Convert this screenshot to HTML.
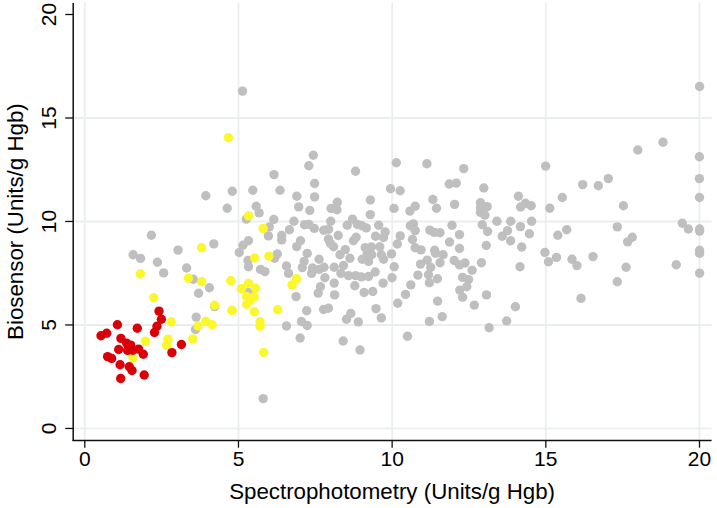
<!DOCTYPE html><html><head><meta charset="utf-8"><style>html,body{margin:0;padding:0;background:#fff;}svg{display:block}text{font-family:"Liberation Sans",sans-serif;fill:#000}</style></head><body>
<svg width="717" height="508" viewBox="0 0 717 508">
<rect width="717" height="508" fill="#fff"/>
<g stroke="#ebeeee" stroke-width="1.8"><line x1="73.8" y1="428.4" x2="711.6" y2="428.4"/><line x1="73.8" y1="325.0" x2="711.6" y2="325.0"/><line x1="73.8" y1="221.5" x2="711.6" y2="221.5"/><line x1="73.8" y1="118.0" x2="711.6" y2="118.0"/><line x1="84.8" y1="2.5" x2="84.8" y2="439.4"/><line x1="238.5" y1="2.5" x2="238.5" y2="439.4"/><line x1="392.2" y1="2.5" x2="392.2" y2="439.4"/><line x1="545.8" y1="2.5" x2="545.8" y2="439.4"/><line x1="699.5" y1="2.5" x2="699.5" y2="439.4"/></g>
<g fill="#bfbfbf"><circle cx="242.5" cy="91.1" r="4.7"/><circle cx="699.6" cy="86.5" r="4.7"/><circle cx="205.8" cy="195.8" r="4.7"/><circle cx="232.3" cy="191.3" r="4.7"/><circle cx="313.3" cy="155.2" r="4.7"/><circle cx="308.8" cy="165.7" r="4.7"/><circle cx="274.0" cy="174.6" r="4.7"/><circle cx="355.5" cy="171.3" r="4.7"/><circle cx="396.3" cy="162.8" r="4.7"/><circle cx="252.8" cy="190.2" r="4.7"/><circle cx="280.0" cy="190.2" r="4.7"/><circle cx="314.6" cy="183.5" r="4.7"/><circle cx="296.8" cy="196.3" r="4.7"/><circle cx="314.6" cy="196.9" r="4.7"/><circle cx="370.4" cy="200.0" r="4.7"/><circle cx="390.5" cy="188.7" r="4.7"/><circle cx="400.1" cy="190.7" r="4.7"/><circle cx="426.9" cy="163.7" r="4.7"/><circle cx="463.7" cy="168.6" r="4.7"/><circle cx="449.2" cy="184.0" r="4.7"/><circle cx="456.3" cy="183.1" r="4.7"/><circle cx="483.8" cy="188.0" r="4.7"/><circle cx="432.9" cy="199.5" r="4.7"/><circle cx="518.4" cy="196.3" r="4.7"/><circle cx="545.6" cy="166.1" r="4.7"/><circle cx="562.3" cy="197.5" r="4.7"/><circle cx="663.0" cy="142.2" r="4.7"/><circle cx="637.8" cy="150.0" r="4.7"/><circle cx="699.4" cy="156.7" r="4.7"/><circle cx="699.4" cy="178.6" r="4.7"/><circle cx="699.5" cy="197.5" r="4.7"/><circle cx="608.3" cy="178.6" r="4.7"/><circle cx="598.3" cy="185.8" r="4.7"/><circle cx="582.7" cy="184.6" r="4.7"/><circle cx="623.4" cy="205.8" r="4.7"/><circle cx="227.2" cy="208.2" r="4.7"/><circle cx="256.2" cy="206.2" r="4.7"/><circle cx="259.1" cy="212.9" r="4.7"/><circle cx="246.3" cy="219.1" r="4.7"/><circle cx="273.8" cy="219.5" r="4.7"/><circle cx="269.3" cy="227.0" r="4.7"/><circle cx="268.4" cy="235.9" r="4.7"/><circle cx="281.7" cy="235.5" r="4.7"/><circle cx="281.7" cy="239.9" r="4.7"/><circle cx="248.5" cy="240.8" r="4.7"/><circle cx="298.7" cy="206.9" r="4.7"/><circle cx="309.8" cy="210.5" r="4.7"/><circle cx="331.1" cy="208.4" r="4.7"/><circle cx="336.9" cy="209.8" r="4.7"/><circle cx="337.3" cy="202.2" r="4.7"/><circle cx="293.9" cy="221.3" r="4.7"/><circle cx="289.4" cy="229.7" r="4.7"/><circle cx="304.5" cy="224.8" r="4.7"/><circle cx="308.9" cy="224.4" r="4.7"/><circle cx="314.3" cy="228.4" r="4.7"/><circle cx="330.7" cy="221.3" r="4.7"/><circle cx="323.8" cy="230.2" r="4.7"/><circle cx="328.6" cy="229.2" r="4.7"/><circle cx="338.2" cy="235.5" r="4.7"/><circle cx="328.4" cy="239.0" r="4.7"/><circle cx="300.5" cy="240.8" r="4.7"/><circle cx="394.0" cy="208.4" r="4.7"/><circle cx="370.3" cy="214.6" r="4.7"/><circle cx="352.5" cy="219.1" r="4.7"/><circle cx="347.2" cy="225.3" r="4.7"/><circle cx="357.4" cy="224.4" r="4.7"/><circle cx="366.3" cy="227.9" r="4.7"/><circle cx="378.7" cy="225.3" r="4.7"/><circle cx="385.2" cy="232.0" r="4.7"/><circle cx="375.6" cy="236.3" r="4.7"/><circle cx="383.5" cy="237.5" r="4.7"/><circle cx="356.1" cy="237.2" r="4.7"/><circle cx="353.4" cy="240.8" r="4.7"/><circle cx="400.2" cy="235.9" r="4.7"/><circle cx="415.2" cy="206.2" r="4.7"/><circle cx="409.9" cy="211.1" r="4.7"/><circle cx="436.5" cy="208.2" r="4.7"/><circle cx="454.6" cy="204.4" r="4.7"/><circle cx="413.4" cy="223.9" r="4.7"/><circle cx="410.3" cy="225.7" r="4.7"/><circle cx="415.2" cy="230.6" r="4.7"/><circle cx="412.5" cy="239.5" r="4.7"/><circle cx="429.8" cy="230.1" r="4.7"/><circle cx="434.3" cy="232.4" r="4.7"/><circle cx="440.0" cy="232.8" r="4.7"/><circle cx="452.0" cy="225.3" r="4.7"/><circle cx="459.5" cy="234.6" r="4.7"/><circle cx="449.5" cy="242.0" r="4.7"/><circle cx="480.5" cy="202.7" r="4.7"/><circle cx="487.2" cy="206.6" r="4.7"/><circle cx="480.5" cy="212.4" r="4.7"/><circle cx="484.9" cy="215.1" r="4.7"/><circle cx="496.9" cy="221.3" r="4.7"/><circle cx="510.7" cy="221.3" r="4.7"/><circle cx="482.3" cy="224.8" r="4.7"/><circle cx="487.6" cy="231.5" r="4.7"/><circle cx="507.6" cy="230.6" r="4.7"/><circle cx="502.2" cy="236.3" r="4.7"/><circle cx="510.7" cy="240.8" r="4.7"/><circle cx="520.4" cy="226.6" r="4.7"/><circle cx="520.6" cy="207.0" r="4.7"/><circle cx="531.2" cy="205.8" r="4.7"/><circle cx="525.5" cy="203.3" r="4.7"/><circle cx="549.8" cy="208.2" r="4.7"/><circle cx="531.6" cy="221.3" r="4.7"/><circle cx="529.4" cy="233.7" r="4.7"/><circle cx="566.7" cy="229.7" r="4.7"/><circle cx="557.8" cy="235.3" r="4.7"/><circle cx="239.2" cy="252.5" r="4.7"/><circle cx="243.0" cy="245.3" r="4.7"/><circle cx="248.0" cy="260.5" r="4.7"/><circle cx="248.5" cy="266.7" r="4.7"/><circle cx="277.3" cy="253.9" r="4.7"/><circle cx="274.6" cy="258.3" r="4.7"/><circle cx="260.5" cy="269.4" r="4.7"/><circle cx="264.9" cy="271.6" r="4.7"/><circle cx="248.5" cy="292.7" r="4.7"/><circle cx="296.7" cy="246.6" r="4.7"/><circle cx="307.2" cy="253.4" r="4.7"/><circle cx="304.1" cy="261.4" r="4.7"/><circle cx="302.3" cy="267.6" r="4.7"/><circle cx="319.1" cy="259.2" r="4.7"/><circle cx="312.5" cy="268.0" r="4.7"/><circle cx="311.6" cy="273.4" r="4.7"/><circle cx="324.0" cy="267.2" r="4.7"/><circle cx="319.1" cy="269.4" r="4.7"/><circle cx="324.9" cy="277.8" r="4.7"/><circle cx="334.2" cy="283.1" r="4.7"/><circle cx="320.5" cy="286.7" r="4.7"/><circle cx="334.2" cy="267.2" r="4.7"/><circle cx="340.0" cy="254.8" r="4.7"/><circle cx="345.3" cy="249.6" r="4.7"/><circle cx="333.6" cy="246.8" r="4.7"/><circle cx="340.9" cy="273.4" r="4.7"/><circle cx="286.5" cy="266.0" r="4.7"/><circle cx="288.5" cy="273.4" r="4.7"/><circle cx="349.9" cy="258.3" r="4.7"/><circle cx="343.5" cy="265.5" r="4.7"/><circle cx="365.2" cy="247.6" r="4.7"/><circle cx="371.4" cy="247.0" r="4.7"/><circle cx="362.3" cy="259.2" r="4.7"/><circle cx="368.5" cy="261.4" r="4.7"/><circle cx="371.6" cy="254.8" r="4.7"/><circle cx="367.2" cy="253.9" r="4.7"/><circle cx="379.8" cy="246.8" r="4.7"/><circle cx="381.3" cy="254.8" r="4.7"/><circle cx="383.6" cy="259.2" r="4.7"/><circle cx="391.5" cy="253.9" r="4.7"/><circle cx="397.3" cy="244.0" r="4.7"/><circle cx="394.2" cy="266.7" r="4.7"/><circle cx="392.0" cy="277.8" r="4.7"/><circle cx="383.1" cy="283.1" r="4.7"/><circle cx="375.1" cy="272.0" r="4.7"/><circle cx="368.5" cy="276.5" r="4.7"/><circle cx="348.5" cy="275.6" r="4.7"/><circle cx="355.6" cy="275.6" r="4.7"/><circle cx="361.4" cy="276.9" r="4.7"/><circle cx="354.8" cy="285.8" r="4.7"/><circle cx="364.1" cy="292.5" r="4.7"/><circle cx="372.8" cy="291.5" r="4.7"/><circle cx="415.2" cy="247.7" r="4.7"/><circle cx="421.0" cy="249.9" r="4.7"/><circle cx="434.7" cy="250.3" r="4.7"/><circle cx="443.1" cy="254.8" r="4.7"/><circle cx="440.0" cy="262.7" r="4.7"/><circle cx="427.2" cy="260.1" r="4.7"/><circle cx="420.5" cy="264.1" r="4.7"/><circle cx="430.7" cy="267.2" r="4.7"/><circle cx="417.9" cy="275.1" r="4.7"/><circle cx="428.5" cy="274.7" r="4.7"/><circle cx="437.4" cy="278.7" r="4.7"/><circle cx="429.4" cy="282.7" r="4.7"/><circle cx="410.8" cy="284.9" r="4.7"/><circle cx="454.2" cy="260.5" r="4.7"/><circle cx="459.5" cy="264.9" r="4.7"/><circle cx="465.0" cy="263.0" r="4.7"/><circle cx="459.5" cy="248.5" r="4.7"/><circle cx="462.6" cy="277.4" r="4.7"/><circle cx="459.8" cy="290.1" r="4.7"/><circle cx="486.3" cy="245.5" r="4.7"/><circle cx="481.4" cy="262.7" r="4.7"/><circle cx="472.1" cy="270.3" r="4.7"/><circle cx="468.5" cy="279.6" r="4.7"/><circle cx="466.8" cy="286.7" r="4.7"/><circle cx="520.0" cy="266.7" r="4.7"/><circle cx="521.7" cy="247.0" r="4.7"/><circle cx="544.9" cy="252.5" r="4.7"/><circle cx="548.5" cy="261.8" r="4.7"/><circle cx="556.5" cy="257.4" r="4.7"/><circle cx="572.0" cy="259.2" r="4.7"/><circle cx="576.9" cy="265.6" r="4.7"/><circle cx="296.1" cy="296.6" r="4.7"/><circle cx="318.2" cy="293.1" r="4.7"/><circle cx="334.6" cy="294.9" r="4.7"/><circle cx="306.7" cy="310.8" r="4.7"/><circle cx="323.6" cy="309.5" r="4.7"/><circle cx="328.4" cy="308.2" r="4.7"/><circle cx="301.4" cy="321.5" r="4.7"/><circle cx="307.2" cy="325.5" r="4.7"/><circle cx="286.5" cy="326.0" r="4.7"/><circle cx="346.5" cy="319.3" r="4.7"/><circle cx="300.1" cy="338.0" r="4.7"/><circle cx="376.0" cy="308.6" r="4.7"/><circle cx="381.3" cy="317.9" r="4.7"/><circle cx="350.8" cy="313.5" r="4.7"/><circle cx="358.3" cy="321.9" r="4.7"/><circle cx="397.7" cy="303.3" r="4.7"/><circle cx="405.5" cy="294.4" r="4.7"/><circle cx="343.2" cy="341.0" r="4.7"/><circle cx="360.0" cy="350.0" r="4.7"/><circle cx="437.6" cy="301.1" r="4.7"/><circle cx="442.2" cy="316.6" r="4.7"/><circle cx="429.4" cy="321.5" r="4.7"/><circle cx="462.6" cy="297.3" r="4.7"/><circle cx="407.5" cy="336.3" r="4.7"/><circle cx="486.5" cy="294.9" r="4.7"/><circle cx="474.3" cy="305.1" r="4.7"/><circle cx="515.4" cy="306.8" r="4.7"/><circle cx="506.7" cy="321.0" r="4.7"/><circle cx="489.1" cy="327.7" r="4.7"/><circle cx="581.0" cy="298.4" r="4.7"/><circle cx="617.3" cy="226.9" r="4.7"/><circle cx="632.3" cy="237.2" r="4.7"/><circle cx="627.6" cy="241.9" r="4.7"/><circle cx="593.0" cy="256.6" r="4.7"/><circle cx="626.1" cy="267.2" r="4.7"/><circle cx="617.3" cy="281.8" r="4.7"/><circle cx="682.3" cy="223.3" r="4.7"/><circle cx="688.4" cy="229.0" r="4.7"/><circle cx="699.6" cy="229.0" r="4.7"/><circle cx="699.6" cy="231.1" r="4.7"/><circle cx="699.6" cy="250.3" r="4.7"/><circle cx="699.6" cy="253.3" r="4.7"/><circle cx="699.6" cy="273.1" r="4.7"/><circle cx="676.3" cy="264.7" r="4.7"/><circle cx="151.4" cy="235.2" r="4.7"/><circle cx="133.1" cy="254.7" r="4.7"/><circle cx="140.5" cy="258.4" r="4.7"/><circle cx="157.4" cy="262.3" r="4.7"/><circle cx="178.0" cy="250.1" r="4.7"/><circle cx="213.8" cy="243.9" r="4.7"/><circle cx="186.6" cy="268.0" r="4.7"/><circle cx="163.6" cy="272.9" r="4.7"/><circle cx="193.3" cy="279.2" r="4.7"/><circle cx="209.4" cy="287.7" r="4.7"/><circle cx="198.6" cy="293.2" r="4.7"/><circle cx="214.7" cy="306.6" r="4.7"/><circle cx="196.2" cy="317.1" r="4.7"/><circle cx="195.5" cy="329.5" r="4.7"/><circle cx="263.2" cy="398.6" r="4.7"/><circle cx="330.4" cy="243.5" r="4.7"/><circle cx="361.8" cy="225.7" r="4.7"/><circle cx="435.5" cy="253.2" r="4.7"/><circle cx="480.5" cy="207.5" r="4.7"/></g>
<g fill="#faf72c"><circle cx="228.4" cy="137.7" r="4.7"/><circle cx="248.5" cy="216.0" r="4.7"/><circle cx="263.1" cy="228.4" r="4.7"/><circle cx="254.7" cy="257.9" r="4.7"/><circle cx="268.9" cy="256.1" r="4.7"/><circle cx="230.8" cy="280.8" r="4.7"/><circle cx="248.5" cy="283.4" r="4.7"/><circle cx="241.4" cy="288.7" r="4.7"/><circle cx="255.6" cy="288.3" r="4.7"/><circle cx="254.3" cy="296.7" r="4.7"/><circle cx="246.7" cy="304.3" r="4.7"/><circle cx="232.1" cy="310.5" r="4.7"/><circle cx="254.3" cy="311.8" r="4.7"/><circle cx="277.7" cy="309.6" r="4.7"/><circle cx="260.1" cy="321.7" r="4.7"/><circle cx="260.1" cy="326.2" r="4.7"/><circle cx="296.5" cy="278.7" r="4.7"/><circle cx="292.1" cy="284.9" r="4.7"/><circle cx="201.6" cy="247.8" r="4.7"/><circle cx="140.4" cy="274.0" r="4.7"/><circle cx="188.4" cy="278.3" r="4.7"/><circle cx="201.7" cy="281.6" r="4.7"/><circle cx="214.7" cy="305.2" r="4.7"/><circle cx="232.0" cy="310.3" r="4.7"/><circle cx="153.7" cy="297.8" r="4.7"/><circle cx="171.2" cy="321.9" r="4.7"/><circle cx="198.0" cy="326.0" r="4.7"/><circle cx="205.8" cy="321.5" r="4.7"/><circle cx="212.1" cy="324.6" r="4.7"/><circle cx="263.7" cy="352.4" r="4.7"/><circle cx="145.5" cy="341.1" r="4.7"/><circle cx="167.9" cy="339.3" r="4.7"/><circle cx="166.6" cy="345.1" r="4.7"/><circle cx="192.7" cy="338.9" r="4.7"/><circle cx="132.9" cy="357.9" r="4.7"/><circle cx="246.6" cy="296.4" r="4.7"/><circle cx="250.6" cy="300.2" r="4.7"/></g>
<g fill="#da0008"><circle cx="159.0" cy="311.1" r="4.7"/><circle cx="161.4" cy="319.3" r="4.7"/><circle cx="157.0" cy="326.3" r="4.7"/><circle cx="154.5" cy="332.5" r="4.7"/><circle cx="143.3" cy="354.2" r="4.7"/><circle cx="171.9" cy="352.6" r="4.7"/><circle cx="181.4" cy="344.5" r="4.7"/><circle cx="144.2" cy="375.0" r="4.7"/><circle cx="117.4" cy="324.8" r="4.7"/><circle cx="137.3" cy="328.3" r="4.7"/><circle cx="106.7" cy="333.3" r="4.7"/><circle cx="101.0" cy="335.8" r="4.7"/><circle cx="120.9" cy="338.4" r="4.7"/><circle cx="126.7" cy="343.3" r="4.7"/><circle cx="130.7" cy="345.1" r="4.7"/><circle cx="118.7" cy="349.5" r="4.7"/><circle cx="127.6" cy="350.4" r="4.7"/><circle cx="138.6" cy="349.1" r="4.7"/><circle cx="107.6" cy="356.6" r="4.7"/><circle cx="111.6" cy="358.4" r="4.7"/><circle cx="120.1" cy="364.8" r="4.7"/><circle cx="129.3" cy="366.8" r="4.7"/><circle cx="132.0" cy="370.5" r="4.7"/><circle cx="120.7" cy="378.5" r="4.7"/><circle cx="132.6" cy="350.2" r="4.7"/></g>
<g stroke="#111" stroke-width="1.3"><line x1="73.2" y1="3" x2="73.2" y2="441.1" stroke-width="1.5"/><line x1="72.45" y1="440.4" x2="711.6" y2="440.4" stroke-width="1.5"/><line x1="65.2" y1="428.45" x2="73.2" y2="428.45"/><line x1="84.80" y1="440.4" x2="84.80" y2="447.7"/><line x1="65.2" y1="324.96" x2="73.2" y2="324.96"/><line x1="238.48" y1="440.4" x2="238.48" y2="447.7"/><line x1="65.2" y1="221.47" x2="73.2" y2="221.47"/><line x1="392.15" y1="440.4" x2="392.15" y2="447.7"/><line x1="65.2" y1="117.99" x2="73.2" y2="117.99"/><line x1="545.82" y1="440.4" x2="545.82" y2="447.7"/><line x1="65.2" y1="14.50" x2="73.2" y2="14.50"/><line x1="699.50" y1="440.4" x2="699.50" y2="447.7"/></g>
<text x="84.8" y="465.8" text-anchor="middle" font-size="21">0</text><text transform="translate(56,428.4) rotate(-90)" text-anchor="middle" font-size="21">0</text><text x="238.5" y="465.8" text-anchor="middle" font-size="21">5</text><text transform="translate(56,325.0) rotate(-90)" text-anchor="middle" font-size="21">5</text><text x="392.2" y="465.8" text-anchor="middle" font-size="21">10</text><text transform="translate(56,221.5) rotate(-90)" text-anchor="middle" font-size="21">10</text><text x="545.8" y="465.8" text-anchor="middle" font-size="21">15</text><text transform="translate(56,118.0) rotate(-90)" text-anchor="middle" font-size="21">15</text><text x="699.5" y="465.8" text-anchor="middle" font-size="21">20</text><text transform="translate(56,14.5) rotate(-90)" text-anchor="middle" font-size="21">20</text><text x="392.1" y="499.3" text-anchor="middle" font-size="22.3">Spectrophotometry (Units/g Hgb)</text><text transform="translate(22.6,221.6) rotate(-90)" text-anchor="middle" font-size="22.3">Biosensor (Units/g Hgb)</text>
</svg></body></html>
